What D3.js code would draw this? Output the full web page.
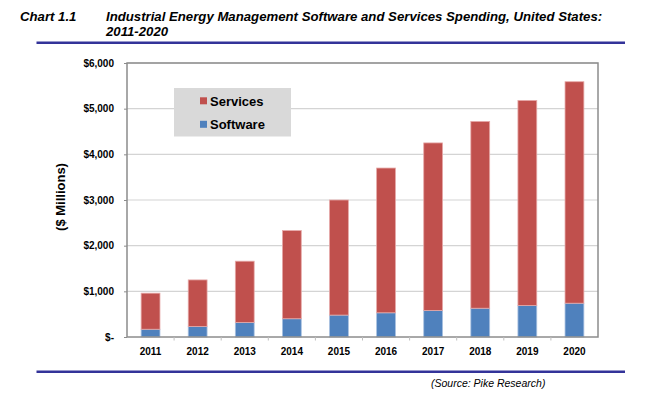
<!DOCTYPE html>
<html><head><meta charset="utf-8">
<script src="https://cdn.jsdelivr.net/npm/d3@7"></script>
<style>
body{margin:0;background:#fff;}
svg{display:block;font-family:"Liberation Sans",Arial,sans-serif;}
</style></head>
<body>
<svg id="c" width="671" height="398"></svg>
<script>
const years = ["2011","2012","2013","2014","2015","2016","2017","2018","2019","2020"];
const software = [170,230,320,400,480,530,580,630,690,740];
const services = [790,1020,1340,1930,2520,3170,3670,4090,4490,4850];
const yTicks = [0,1000,2000,3000,4000,5000,6000];
const seriesNames = ["Software","Services"];
const colors = {Software:"#4F81BD", Services:"#C0504D"};

const svg = d3.select("#c");
const m = {l:127, r:598, t:63, b:337};

// title
const tf = "13.2px";
svg.append("text").attr("x",20).attr("y",20.5).attr("font-size",tf).attr("font-weight","bold").attr("font-style","italic").text("Chart 1.1");
svg.append("text").attr("x",106).attr("y",20.5).attr("font-size",tf).attr("font-weight","bold").attr("font-style","italic").text("Industrial Energy Management Software and Services Spending, United States:");
svg.append("text").attr("x",106).attr("y",36).attr("font-size",tf).attr("font-weight","bold").attr("font-style","italic").text("2011-2020");
svg.append("line").attr("x1",36.5).attr("x2",625).attr("y1",42.7).attr("y2",42.7).attr("stroke","#333399").attr("stroke-width",2.5);
svg.append("line").attr("x1",36.5).attr("x2",625).attr("y1",371.7).attr("y2",371.7).attr("stroke","#333399").attr("stroke-width",2.5);
svg.append("text").attr("x",431).attr("y",386.5).attr("font-size","10.5px").attr("font-style","italic").text("(Source: Pike Research)");

const x = d3.scaleBand().domain(years).range([m.l,m.r]).paddingInner(0.6).paddingOuter(0.3);
const xb = d3.scaleBand().domain(years).range([m.l,m.r]);
const y = d3.scaleLinear().domain([0,6000]).range([m.b,m.t]);

// gridlines
svg.append("g").selectAll("line").data(yTicks.slice(1)).join("line")
  .attr("x1",m.l).attr("x2",m.r).attr("y1",d=>y(d)).attr("y2",d=>y(d))
  .attr("stroke","#d4d4d4").attr("stroke-width",1.2);

// stacked bars
const rows = years.map((yr,i)=>({year:yr, Software:software[i], Services:services[i]}));
const stack = d3.stack().keys(seriesNames)(rows);
svg.append("g").selectAll("g").data(stack).join("g")
  .attr("fill",d=>colors[d.key])
  .attr("stroke",d=>d.key==="Services"?"#E6A9A8":"#A9C1E0").attr("stroke-width",0.8)
  .selectAll("rect").data(d=>d).join("rect")
  .attr("x",d=>x(d.data.year)).attr("width",x.bandwidth())
  .attr("y",d=>y(d[1])).attr("height",d=>y(d[0])-y(d[1]));

// plot border
svg.append("rect").attr("x",m.l).attr("y",m.t).attr("width",m.r-m.l).attr("height",m.b-m.t)
  .attr("fill","none").attr("stroke","#8c8c8c").attr("stroke-width",1.5);

// y axis
const yAxis = d3.axisLeft(y).tickValues(yTicks).tickSize(3).tickPadding(10)
  .tickFormat(d=> d===0 ? "$-" : "$"+d3.format(",")(d));
const ga = svg.append("g").attr("transform",`translate(${m.l},0)`).call(yAxis);
ga.select(".domain").remove();
ga.selectAll(".tick line").attr("stroke","#8c8c8c");
ga.selectAll("text").attr("font-size","10px").attr("font-weight","bold").attr("fill","#000").attr("font-family","Liberation Sans, Arial, sans-serif");

// x axis
const xAxis = d3.axisBottom(xb).tickSize(0).tickPadding(11);
const gx = svg.append("g").attr("transform",`translate(0,${m.b})`).call(xAxis);
gx.select(".domain").remove();
gx.selectAll("text").attr("font-size","10px").attr("font-weight","bold").attr("fill","#000").attr("font-family","Liberation Sans, Arial, sans-serif");
svg.append("g").selectAll("line").data(years.slice(1)).join("line")
  .attr("x1",d=>xb(d)).attr("x2",d=>xb(d)).attr("y1",m.b).attr("y2",m.b+3.5)
  .attr("stroke","#bfbfbf");

// y label
svg.append("text").attr("transform","translate(64.5,197) rotate(-90)").attr("text-anchor","middle")
  .attr("font-size","13px").attr("font-weight","bold").text("($ Millions)");

// legend
const lg = svg.append("g");
lg.append("rect").attr("x",174).attr("y",88).attr("width",117).attr("height",48.5).attr("fill","#d9d9d9");
const legendItems = ["Services","Software"];
legendItems.forEach((k,i)=>{
  const yy = 97.3 + i*23.5;
  lg.append("rect").attr("x",200).attr("y",yy).attr("width",7).attr("height",7).attr("fill",colors[k]);
  lg.append("text").attr("x",210).attr("y",yy+8.2).attr("font-size","13px").attr("font-weight","bold").text(k);
});
</script>
</body></html>
